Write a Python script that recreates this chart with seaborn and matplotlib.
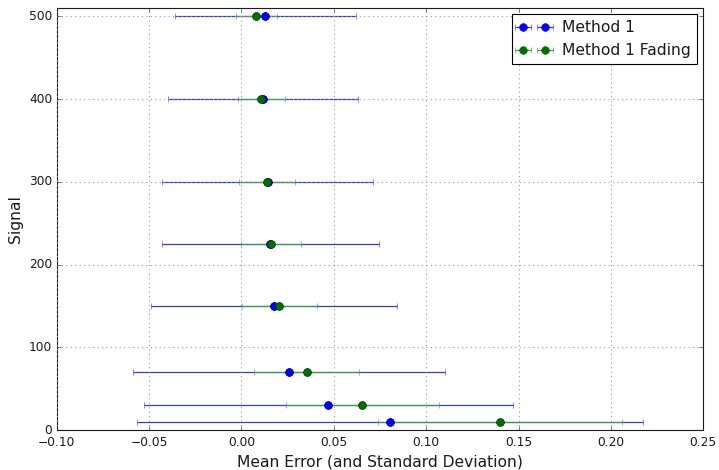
import numpy as np
import pandas as pd
import matplotlib
matplotlib.use("Agg")
import matplotlib.pyplot as plt
import seaborn as sns

signal = [10, 30, 70, 150, 225, 300, 400, 500]
m1_mean = [0.0805, 0.047, 0.0257, 0.0176, 0.0157, 0.0141, 0.0117, 0.0128]
m1_std = [0.137, 0.100, 0.0846, 0.0665, 0.059, 0.0572, 0.0516, 0.049]
fad_mean = [0.140, 0.0653, 0.0353, 0.0205, 0.0161, 0.0136, 0.0107, 0.0080]
fad_std = [0.066, 0.0414, 0.0285, 0.0204, 0.0163, 0.0152, 0.0128, 0.0110]
series_names = ["Method 1", "Method 1 Fading"]

df = pd.DataFrame({
    "Signal": signal * 2,
    "mean": m1_mean + fad_mean,
    "std": m1_std + fad_std,
    "method": [series_names[0]] * len(signal) + [series_names[1]] * len(signal),
})

sns.set_theme(style="white")
plt.style.use("classic")
plt.rcParams["font.family"] = ["DejaVu Sans"]

fig = plt.figure(figsize=(719 / 80, 470 / 80), dpi=80)
ax = fig.add_axes([0.079, 0.085, 0.899, 0.898])

colors = {"Method 1": "#0000ff", "Method 1 Fading": "#007000"}
ecolors = {"Method 1": (0.2, 0.2, 1.0), "Method 1 Fading": (0.25, 0.6, 0.25)}
for name in series_names:
    sub = df[df["method"] == name]
    ax.errorbar(sub["mean"], sub["Signal"], xerr=sub["std"], fmt="o",
                color=colors[name], ecolor=ecolors[name], capsize=3,
                markersize=7, markeredgecolor=colors[name], elinewidth=1.1,
                label=name)
    sns.scatterplot(data=sub, x="mean", y="Signal", color=colors[name],
                    s=50, edgecolor=(0, 0, 0, 0.5), linewidth=0.5,
                    ax=ax, legend=False, zorder=3)

ax.set_xlim(-0.10, 0.25)
ax.set_ylim(0, 510)
ax.set_xticks(np.arange(-0.10, 0.2501, 0.05))
ax.set_yticks([0, 100, 200, 300, 400, 500])
ax.grid(True, linestyle=":", color="#999999", linewidth=1)
ax.tick_params(labelsize=11, direction="in", top=True, right=True)
ax.tick_params(axis="x", pad=5)
ax.set_xlabel("Mean Error (and Standard Deviation)", fontsize=14)
ax.set_ylabel("Signal", fontsize=14)
leg = ax.legend(loc="upper right", numpoints=2, fontsize=14, fancybox=False,
                frameon=True, borderaxespad=0.4)
leg.get_frame().set_edgecolor("black")

fig.savefig("out.png", dpi=80)
